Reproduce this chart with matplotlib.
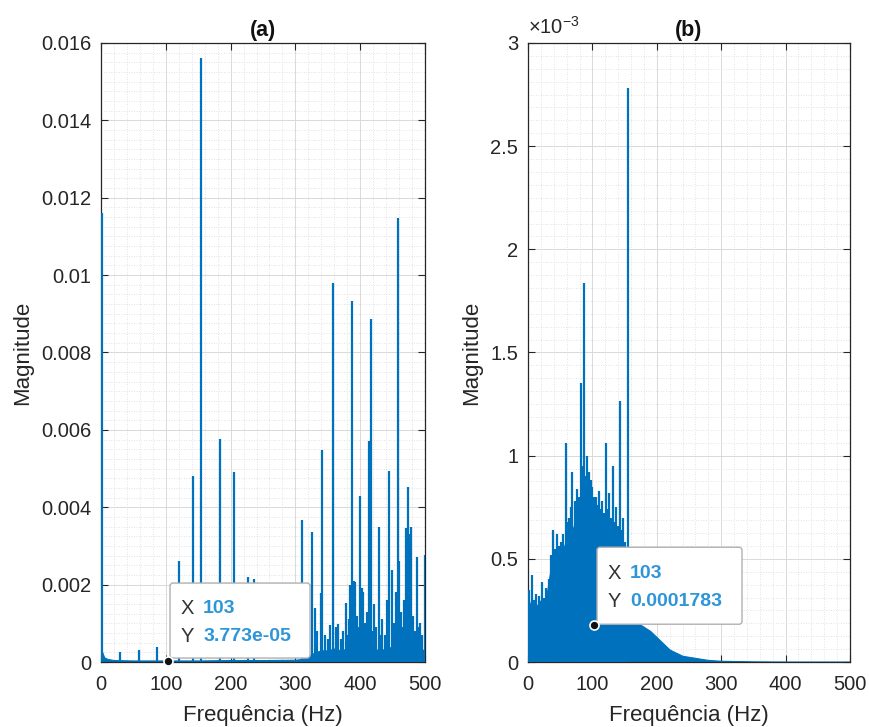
import matplotlib
matplotlib.use("Agg")
import matplotlib.pyplot as plt
from matplotlib.ticker import MultipleLocator, FuncFormatter
from matplotlib.transforms import ScaledTranslation
from matplotlib.patches import FancyBboxPatch

plt.rcParams['font.family'] = ['Liberation Sans', 'DejaVu Sans']
plt.rcParams['mathtext.fontset'] = 'custom'
plt.rcParams['mathtext.rm'] = 'Liberation Sans'
plt.rcParams['mathtext.it'] = 'Liberation Sans'

LINE = '#0072BD'
TXT = '#262626'
TIP_BLUE = '#2E95D8'

# ---------------- panel (a): discrete spectral lines ----------------
a_peak_freq = [1, 29, 59, 86, 120, 141.5, 155, 184, 206, 227, 236,
               309.7, 318, 325, 330, 334, 339.5, 341, 346, 351, 354, 358.5,
               362, 366, 370, 374, 377.6, 380, 383, 385, 387.4, 390, 392, 395,
               398, 400, 403, 405, 408, 411, 414, 416.7, 419, 421, 425, 429,
               432, 434, 438, 441, 444.6, 448.6, 452, 455, 457.9, 460, 463,
               466, 468, 470, 473, 475, 478, 481, 484, 487, 490, 492, 495,
               499.5]
a_peak_mag = [0.0116, 0.00027, 0.00030, 0.00040, 0.0026, 0.0048, 0.0156,
              0.00576, 0.0049, 0.0022, 0.00215,
              0.00367, 0.0006, 0.00337, 0.0014, 0.0008, 0.00178, 0.00548,
              0.0007, 0.0006, 0.00095, 0.0098,
              0.0009, 0.00097, 0.0006, 0.0008, 0.00152, 0.0007, 0.0011,
              0.0020, 0.00933, 0.0021, 0.00207, 0.0012,
              0.0009, 0.0043, 0.0019, 0.0018, 0.0010, 0.0013, 0.0057,
              0.00886, 0.0008, 0.0015, 0.0009, 0.0035,
              0.0007, 0.0011, 0.0007, 0.0016, 0.00494, 0.00238, 0.0010,
              0.0018, 0.01147, 0.0026, 0.0013,
              0.0009, 0.0016, 0.00346, 0.00453, 0.0033, 0.0035, 0.0012,
              0.0008, 0.00272, 0.0009, 0.0010, 0.0007,
              0.00277]

# background level of the spectrum (a)
a_floor_freq = [0, 2, 5, 10, 20, 50, 100, 150, 200, 250, 300, 310, 320, 330,
                340, 350, 360, 370, 380, 390, 400, 410, 420, 430, 440, 450,
                460, 470, 480, 490, 500]
a_floor_mag = [0.00035, 0.00025, 0.00012, 0.00008, 0.00005, 0.00004,
               0.00004, 0.00004, 0.00005, 0.00005, 0.00006, 0.00008,
               0.00015, 0.00025, 0.0003, 0.0003, 0.00035, 0.0003, 0.00035,
               0.00045, 0.0004, 0.0004, 0.00035, 0.0003, 0.00035, 0.0004,
               0.00045, 0.00045, 0.0004, 0.00035, 0.0003]

a_tip_x, a_tip_y = 103, 3.773e-05

# ---------------- panel (b): broadband spectrum ----------------
b_peak_freq = [2, 6, 9, 13, 17, 22, 25, 28, 33, 36, 39, 42, 45, 48, 51, 55,
               58.5, 62, 64, 67, 69, 73, 76, 79, 82, 84, 87, 90, 92, 95, 98,
               100, 103, 105, 108, 110, 113, 115, 118, 120.6, 123, 126, 129,
               132, 135, 137, 140, 143, 146, 148, 151, 155]
b_peak_mag = [0.00035, 0.00042, 0.00030, 0.00033, 0.00032, 0.00039,
              0.00031, 0.00036, 0.00040, 0.00052, 0.00064, 0.00055,
              0.00062, 0.00056, 0.00058, 0.00062, 0.00106, 0.00068,
              0.0007, 0.00075, 0.00092, 0.00078, 0.00084, 0.00080,
              0.00135, 0.00095, 0.001835, 0.00090, 0.0010, 0.00092,
              0.00088, 0.00085, 0.00080, 0.0008, 0.00076, 0.00083,
              0.00074, 0.00078, 0.00072, 0.00106, 0.00074, 0.00082,
              0.00070, 0.00095, 0.00068, 0.00075, 0.00066, 0.001265,
              0.00064, 0.0007, 0.00058, 0.00278]

b_floor_freq = [0, 5, 10, 15, 20, 25, 30, 35, 40, 45, 50, 55, 60, 65, 70, 75,
                80, 85, 90, 95, 100, 105, 110, 115, 120, 125, 130, 135, 140,
                145, 150, 155, 160, 170, 180, 190, 200, 210, 220, 230, 240,
                250, 260, 280, 300, 350, 400, 500]
b_floor_mag = [0.00025, 0.0003, 0.00025, 0.00028, 0.0003, 0.00027, 0.00035,
               0.00045, 0.0005, 0.00048, 0.0005, 0.00055, 0.0006, 0.00062,
               0.00065, 0.0007, 0.00075, 0.0008, 0.00078, 0.00075, 0.00072,
               0.0007, 0.0007, 0.00068, 0.00068, 0.00065, 0.00062, 0.0006,
               0.0006, 0.00058, 0.00055, 0.00045, 0.00025, 0.00019,
               0.00017, 0.00015, 0.00012, 0.00009, 0.00006, 0.000045,
               0.00003, 0.000025, 0.00002, 0.00001, 0.000006, 0.000003,
               0.000002, 0.000002]

b_tip_x, b_tip_y = 103, 0.0001783

x_ticks = [0, 100, 200, 300, 400, 500]

fig = plt.figure(figsize=(8.69, 7.27), dpi=100)
axA = fig.add_axes([0.1162, 0.0894, 0.3729, 0.8515])
axB = fig.add_axes([0.6076, 0.0894, 0.3705, 0.8515])


def style_axes(ax, ymax, ymajor, yminor, fmt):
    ax.set_xlim(0, 500)
    ax.set_ylim(0, ymax)
    ax.set_xticks(x_ticks)
    ax.xaxis.set_minor_locator(MultipleLocator(20))
    ax.yaxis.set_major_locator(MultipleLocator(ymajor))
    ax.yaxis.set_minor_locator(MultipleLocator(yminor))
    ax.yaxis.set_major_formatter(FuncFormatter(fmt))
    ax.set_axisbelow(True)
    ax.grid(which='major', color='#d9d9d9', lw=0.7, ls='-')
    ax.grid(which='minor', color='#d9d9d9', lw=0.6, ls=(0, (1, 2)))
    ax.tick_params(which='major', direction='in', top=True, right=True,
                   length=5, width=0.8, labelsize=14.5, colors=TXT)
    ax.tick_params(axis='x', which='major', pad=9)
    ax.tick_params(axis='y', which='major', pad=7)
    ax.tick_params(which='minor', length=0)
    for s in ax.spines.values():
        s.set_color(TXT)
        s.set_linewidth(0.9)
    ax.set_xlabel('Frequência (Hz)', fontsize=16, color=TXT, labelpad=8)
    ax.set_ylabel('Magnitude', fontsize=16, color=TXT, labelpad=6)


def data_tip(ax, x, y, ytext, width, height, dx, dy):
    ax.plot([x], [y], 'o', ms=6.5, mfc='#111111', mec='white', mew=1.2,
            zorder=8, clip_on=False)
    tr = fig.dpi_scale_trans + ScaledTranslation(x, y, ax.transData)
    box = FancyBboxPatch((dx, dy), width, height,
                         boxstyle='round,pad=0,rounding_size=0.03',
                         transform=tr, facecolor='white', edgecolor='#b0b0b0',
                         lw=1.0, zorder=7, clip_on=False)
    ax.add_patch(box)
    ax.text(dx + 0.11, dy + height * 0.66, 'X', transform=tr, fontsize=14.5,
            color='#333333', va='center', ha='left', zorder=9)
    ax.text(dx + 0.33, dy + height * 0.66, f'{x:g}', transform=tr,
            fontsize=14, fontweight='bold', color=TIP_BLUE, va='center',
            ha='left', zorder=9)
    ax.text(dx + 0.11, dy + height * 0.29, 'Y', transform=tr, fontsize=14.5,
            color='#333333', va='center', ha='left', zorder=9)
    ax.text(dx + 0.33, dy + height * 0.29, ytext, transform=tr,
            fontsize=14, fontweight='bold', color=TIP_BLUE, va='center',
            ha='left', zorder=9)


# panel (a)
axA.fill_between(a_floor_freq, a_floor_mag, color=LINE, lw=0.8, zorder=2)
axA.vlines(a_peak_freq, 0, a_peak_mag, color=LINE, lw=1.6, zorder=3)
style_axes(axA, 0.016, 0.002, 0.00025, lambda v, p: f'{v:g}')
axA.set_title('(a)', fontsize=15.5, fontweight='bold', color='#111111', pad=5)
data_tip(axA, a_tip_x, a_tip_y, f'{a_tip_y:.3e}', 1.40, 0.75, 0.023, 0.025)

# panel (b)
axB.fill_between(b_floor_freq, b_floor_mag, color=LINE, lw=0.8, zorder=2)
axB.vlines(b_peak_freq, 0, b_peak_mag, color=LINE, lw=1.6, zorder=3)
style_axes(axB, 0.003, 0.0005, 0.0000625, lambda v, p: f'{v * 1e3:g}')
axB.set_title('(b)', fontsize=15.5, fontweight='bold', color='#111111', pad=5)
axB.text(0.0, 1.008, r'$\times10^{-3}$', transform=axB.transAxes,
         fontsize=14.5, color=TXT, ha='left', va='bottom')
data_tip(axB, b_tip_x, b_tip_y, f'{b_tip_y:.7f}', 1.45, 0.77, 0.027, 0.01)

fig.savefig('out.png', dpi=100)
